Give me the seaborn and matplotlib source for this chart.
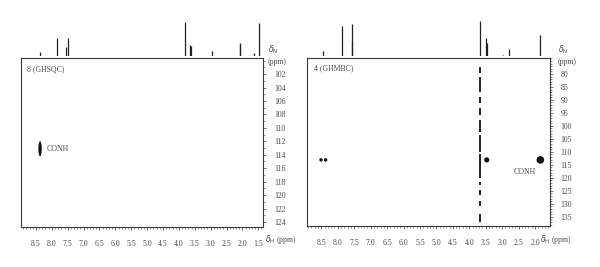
import numpy as np
import pandas as pd
import seaborn as sns
import matplotlib
matplotlib.use("Agg")
import matplotlib.pyplot as plt
from matplotlib.path import Path
from matplotlib.transforms import Affine2D
from matplotlib.ticker import MultipleLocator

# ---------------- data ----------------
# 1D proton spectrum (projection) peaks: shift (ppm), relative height
left_1d_shift = [8.38, 7.85, 7.56, 7.50, 3.82, 3.64, 3.62, 2.96, 2.09, 2.07, 1.63, 1.47]
left_1d_height = [3, 17, 8, 17, 32, 10, 9, 4, 12, 11, 2, 31]
right_1d_shift = [8.45, 7.87, 7.58, 7.56, 3.67, 3.48, 3.46, 2.98, 2.79, 1.84]
right_1d_height = [4, 28, 14, 30, 33, 17, 12, 1, 6, 20]

# 2D cross peaks
left_peak_h = [8.37]
left_peak_n = [113.1]
right_peak_h = [8.51, 8.37, 3.47, 1.84]
right_peak_n = [113.1, 113.1, 113.1, 113.1]
right_peak_size = [6, 6, 14, 30]

# t1-noise streak at 3.67 ppm (segments start/end in delta N)
streak_h = 3.67
streak_start = [77.3, 81.0, 88.8, 93.0, 97.7, 103.5, 111.0, 121.5, 124.6, 129.0, 134.0]
streak_end = [79.6, 87.0, 91.2, 95.8, 102.3, 110.0, 120.0, 122.7, 126.5, 131.0, 137.0]

left_xticks = [8.5, 8.0, 7.5, 7.0, 6.5, 6.0, 5.5, 5.0, 4.5, 4.0, 3.5, 3.0, 2.5, 2.0, 1.5]
left_yticks = [102, 104, 106, 108, 110, 112, 114, 116, 118, 120, 122, 124]
right_xticks = [8.5, 8.0, 7.5, 7.0, 6.5, 6.0, 5.5, 5.0, 4.5, 4.0, 3.5, 3.0, 2.5, 2.0]
right_yticks = [80, 85, 90, 95, 100, 105, 110, 115, 120, 125, 130, 135]

# ---------------- style ----------------
sns.set_theme(style="white")
plt.rcParams['font.family'] = ['Liberation Serif', 'DejaVu Serif']
TXT = "#4a4a4a"
LINE = "#3a3a3a"
FS = 5.6

fig = plt.figure(figsize=(6.0, 2.67), dpi=100)

def setup_2d(ax, xlim, ylim, xticks, yticks, xminor, yminor):
    ax.set_xlim(*xlim)
    ax.set_ylim(*ylim)
    for s in ["left", "right", "top", "bottom"]:
        ax.spines[s].set_visible(True)
        ax.spines[s].set_color(LINE)
        ax.spines[s].set_linewidth(0.8)
    ax.yaxis.tick_right()
    ax.set_xticks(xticks)
    ax.set_xticklabels([f"{t:.1f}" for t in xticks])
    ax.set_yticks(yticks)
    ax.set_yticklabels([str(t) for t in yticks])
    ax.xaxis.set_minor_locator(MultipleLocator(xminor))
    ax.yaxis.set_minor_locator(MultipleLocator(yminor))
    ax.tick_params(axis="both", which="major", direction="out", length=2.5, width=0.5,
                   colors=LINE, labelcolor=TXT, labelsize=FS, pad=5)
    ax.tick_params(axis="both", which="minor", direction="out", length=1.5, width=0.4,
                   colors=LINE)
    ax.tick_params(axis="x", which="both", bottom=True, top=False)
    ax.tick_params(axis="y", which="both", right=True, left=False)
    ax.tick_params(axis="x", which="major", pad=7)
    ax.set_xlabel("")
    ax.set_ylabel("")
    ax.grid(False)

def setup_1d(ax, xlim, shifts, heights, ytop):
    ax.set_xlim(*xlim)
    ax.set_ylim(-0.5, ytop)
    ax.axhline(0, color=LINE, lw=0.7)
    ax.vlines(shifts, 0, heights, color="#222222", lw=0.9)
    ax.axis("off")

# ---------------- left panel ----------------
L_xlim = (8.97, 1.34)
L_ylim = (124.74, 99.6)
axL1 = fig.add_axes([0.035, 0.790, 0.404, 0.143])
setup_1d(axL1, L_xlim, left_1d_shift, left_1d_height, 36)
axL = fig.add_axes([0.035, 0.150, 0.404, 0.633])
setup_2d(axL, L_xlim, L_ylim, left_xticks, left_yticks, 0.1, 1)

ell = Path.unit_circle().transformed(Affine2D().scale(0.22, 1.0))
dfL = pd.DataFrame({"h": left_peak_h, "n": left_peak_n})
sns.scatterplot(data=dfL, x="h", y="n", ax=axL, marker=ell, s=120, color="#111111",
                edgecolor="none", legend=False)
axL.set_xlabel(""); axL.set_ylabel("")
axL.text(8.15, 113.1, "CONH", fontsize=FS, color=TXT, va="center", ha="left")
axL.text(0.025, 0.955, "8 (GHSQC)", transform=axL.transAxes, fontsize=FS,
         color=TXT, va="top", ha="left")
fig.text(265 / 600, 1 - 240 / 267, "$\\delta_{\\mathrm{H}}$ (ppm)", fontsize=FS,
         color=TXT, va="center", ha="left")
fig.text(268 / 600, 1 - 50 / 267, "$\\delta_{\\mathrm{N}}$", fontsize=FS, color=TXT,
         va="center", ha="left")
fig.text(268 / 600, 1 - 62 / 267, "(ppm)", fontsize=FS, color=TXT, va="center", ha="left")

# ---------------- right panel ----------------
R_xlim = (8.93, 1.54)
R_ylim = (138.5, 73.85)
axR1 = fig.add_axes([0.512, 0.790, 0.405, 0.143])
setup_1d(axR1, R_xlim, right_1d_shift, right_1d_height, 36)
axR = fig.add_axes([0.512, 0.154, 0.405, 0.629])
setup_2d(axR, R_xlim, R_ylim, right_xticks, right_yticks, 0.1, 1)

axR.vlines([streak_h] * len(streak_start), streak_start, streak_end, color="#111111",
           lw=1.3)
dfR = pd.DataFrame({"h": right_peak_h, "n": right_peak_n, "s": right_peak_size})
sns.scatterplot(data=dfR, x="h", y="n", ax=axR, size="s", sizes=(6, 30),
                color="#111111", edgecolor="none", legend=False)
axR.set_xlabel(""); axR.set_ylabel("")
axR.text(2.33, 117.7, "CONH", fontsize=FS, color=TXT, va="center", ha="center")
axR.text(0.03, 0.96, "4 (GHMBC)", transform=axR.transAxes, fontsize=FS,
         color=TXT, va="top", ha="left")
fig.text(540 / 600, 1 - 240 / 267, "$\\delta_{\\mathrm{H}}$ (ppm)", fontsize=FS,
         color=TXT, va="center", ha="left")
fig.text(558 / 600, 1 - 50 / 267, "$\\delta_{\\mathrm{N}}$", fontsize=FS, color=TXT,
         va="center", ha="left")
fig.text(558 / 600, 1 - 62 / 267, "(ppm)", fontsize=FS, color=TXT, va="center", ha="left")

plt.rcParams['mathtext.fontset'] = 'dejavuserif'
fig.savefig("out.png", dpi=100, facecolor="white")
